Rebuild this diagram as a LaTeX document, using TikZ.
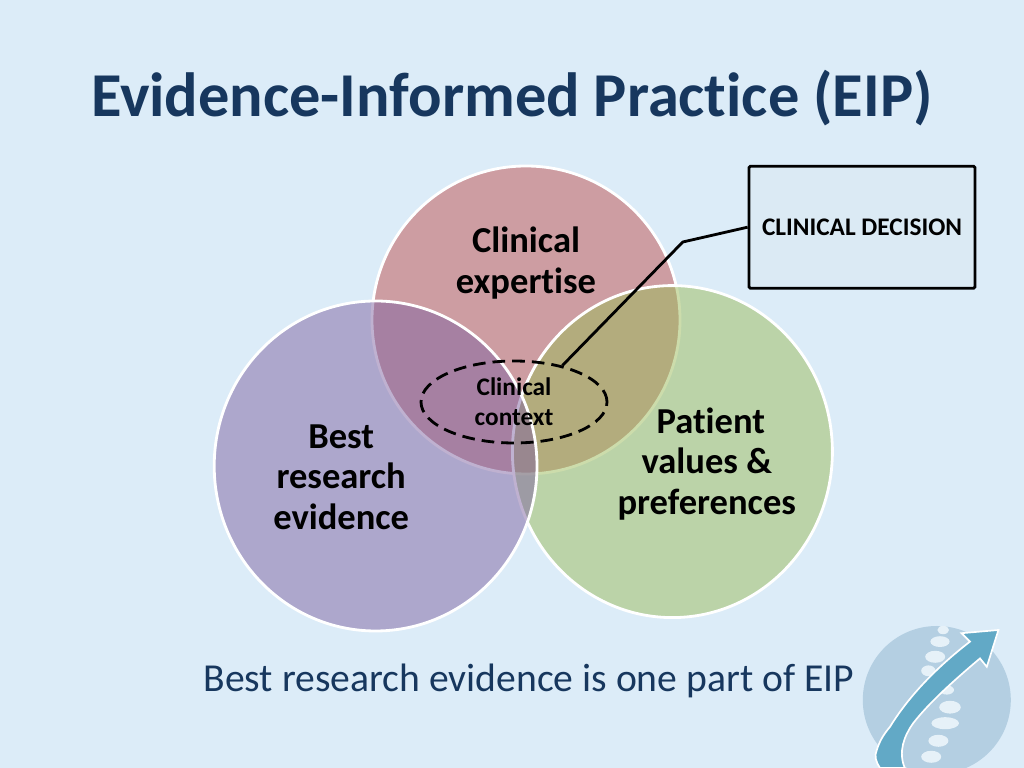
\documentclass[tikz,border=0pt]{standalone}
\usepackage{fontspec}
\setmainfont{Carlito}[Ligatures=NoCommon]
\usetikzlibrary{shapes.geometric}
\definecolor{slidebg}{HTML}{DCECF8}
\definecolor{titleblue}{HTML}{17375E}
\definecolor{rosefill}{HTML}{C0504D}
\definecolor{greenfill}{HTML}{9BBB59}
\definecolor{violetfill}{HTML}{8064A2}
\definecolor{logoback}{HTML}{B4CFE2}
\definecolor{logoarrow}{HTML}{62A9C6}
\definecolor{logobone}{HTML}{E6F1F8}
\definecolor{decisionfill}{HTML}{DBEAF4}

\begin{document}
\begin{tikzpicture}[
		venn/.style={
			ellipse,
			draw=white,
			line width=2pt,
			fill opacity=0.5,
			inner sep=0pt
		},
		biglabel/.style={
			font=\fontsize{26}{29}\selectfont\bfseries,
			align=center,
			text=black
		},
		smalllabel/.style={
			font=\fontsize{18}{21.5}\selectfont\bfseries,
			align=center,
			text=black
		},
		bone/.style={
			ellipse,
			fill=logobone,
			inner sep=0pt
		}
		]
		\useasboundingbox (0,0) rectangle (25.6,19.2);
		\fill[slidebg] (0,0) rectangle (25.6,19.2);
		\node[font=\fontsize{44.4}{49}\selectfont\bfseries, text=titleblue] (title) at (12.8,16.75) {Evidence-Informed Practice (EIP)};
		% three circles
		\node[venn, fill=rosefill, minimum width=7.7cm, minimum height=7.7cm] (clinical) at (13.15,11.2) {};
		\node[venn, fill=greenfill, minimum width=8cm, minimum height=8.3cm] (patient) at (16.81,7.91) {};
		\node[venn, fill=violetfill, minimum width=8.07cm, minimum height=8.25cm] (best) at (9.39,7.55) {};
		\node[biglabel] (clinicallabel) at (13.15,12.62) {Clinical\\expertise};
		\node[biglabel] (patientlabel) at (17.67,7.6) {\hspace*{0.2cm}Patient\\values \&\\preferences};
		\node[biglabel] (bestlabel) at (8.53,7.27) {Best\\research\\evidence};
		% context and decision
		\node[ellipse, draw, line width=2pt, dash pattern=on 9pt off 5pt, minimum width=4.65cm, minimum height=2.05cm, inner sep=0pt, smalllabel] (context) at (12.85,9.15) {Clinical\\context};
		\node[draw, line width=2pt, rounded corners=1pt, fill=decisionfill, minimum width=5.65cm, minimum height=3.05cm, font=\fontsize{18}{20}\selectfont\bfseries] (decision) at (21.55,13.52) {CLINICAL DECISION};
		\coordinate (bend) at (17.07,13.15);
		\draw[line width=2pt] (context.37) -- (bend) -- (decision.west);
		\node[font=\fontsize{28.2}{30}\selectfont, text=titleblue] (caption) at (13.22,2.18) {Best research evidence is one part of EIP};
		% logo
		\begin{scope}
			\clip (0,0) rectangle (25.6,19.2);
			\node[circle, fill=logoback, minimum size=3.7cm, inner sep=0pt] (logo) at (23.42,1.7) {};
			\foreach \bx/\by/\bw/\bh in {23.58/3.45/0.29/0.21,23.5/3.16/0.48/0.27,23.38/2.78/0.5/0.3,23.21/2.43/0.36/0.27,23.67/1.95/0.36/0.23,23.75/1.52/0.54/0.32,23.63/1.12/0.69/0.3,23.46/0.68/0.5/0.3,23.28/0.28/0.5/0.3} {
				\node[bone, minimum width=\bw cm, minimum height=\bh cm] (bone) at (\bx,\by) {};
			}
			\draw[white, line width=1.2pt, fill=logoarrow, line join=miter]
				(22,0) .. controls (21.9,0.15) and (21.85,0.3) .. (21.92,0.45)
				.. controls (22,0.7) and (22.1,0.85) .. (22.25,1.03)
				.. controls (22.6,1.6) and (23.2,2.35) .. (24.25,3.16)
				-- (24.04,3.37) -- (24.96,3.45) -- (24.67,2.53) -- (24.5,2.74)
				.. controls (23.8,2.15) and (23.2,1.6) .. (22.83,1.12)
				.. controls (22.6,0.8) and (22.45,0.4) .. (22.62,0) -- cycle;
		\end{scope}
		\end{tikzpicture}
\end{document}
